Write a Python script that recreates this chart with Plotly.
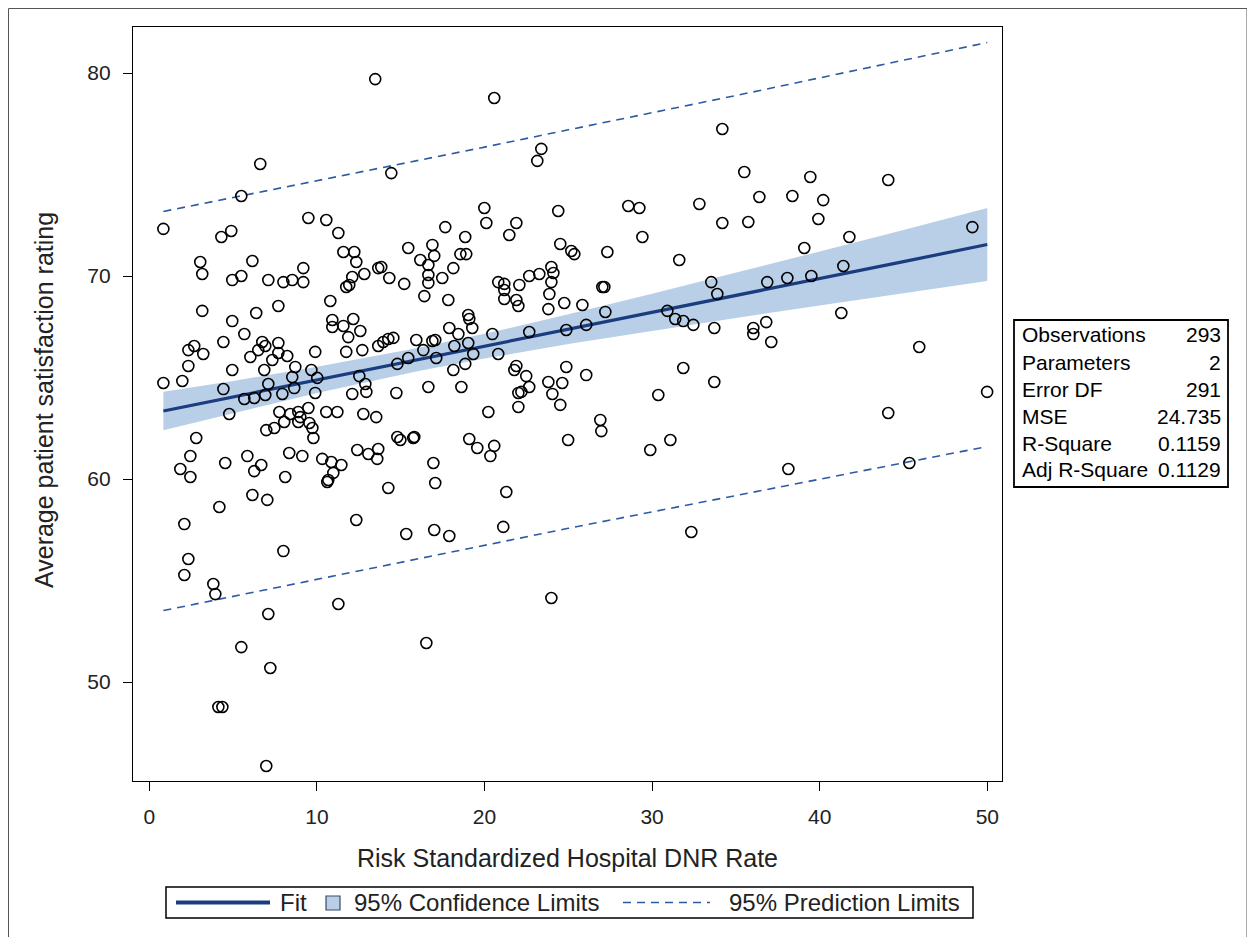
import plotly.graph_objects as go

# ---------------- data ----------------
x_dnr = [
    13.48, 6.62, 5.49, 0.84, 9.49, 10.56, 11.28, 4.30, 4.89, 3.04, 3.16, 6.15, 4.95, 5.49, 7.10, 8.00, 8.53, 9.19, 9.19,
    11.58, 12.23, 12.35, 12.11, 11.93, 11.75, 12.83, 13.66,
    20.58, 23.39, 23.15, 14.44, 19.99, 24.40, 20.11, 21.90, 21.48, 17.66, 18.85, 15.45, 16.89, 17.00, 16.17, 16.65,
    18.56, 18.91, 18.14, 13.84, 14.32, 15.21, 16.65, 16.65, 17.48, 16.41, 17.84, 24.52, 25.18, 25.36, 27.33, 20.82,
    21.18, 21.18, 22.08, 22.67, 23.27, 23.99, 24.11, 23.99, 23.87, 27.03, 27.15,
    34.19, 35.50, 39.44, 44.09, 28.58, 29.24, 32.82, 36.40, 38.37, 40.21, 39.92, 34.19, 35.74, 29.42, 41.77, 49.11,
    39.08, 31.62, 41.41, 33.53, 33.89, 36.87, 38.07, 39.50,
    3.16, 4.95, 6.38, 7.70, 10.80, 5.67, 4.42, 2.33, 2.68, 3.22, 2.33, 0.84, 1.97, 4.42, 4.95, 4.77, 6.03, 6.74, 6.92,
    6.50, 7.70, 7.70, 7.34, 8.23, 6.86, 7.10, 5.67, 6.26, 6.92, 7.94, 8.71, 8.53, 8.65, 9.90, 9.67, 10.02, 9.90,
    10.92, 10.92, 11.58, 12.17, 11.87, 12.59, 11.75, 12.71, 13.66, 12.53, 12.89, 12.95, 12.11, 7.76, 8.41, 8.89, 9.01,
    8.05, 7.46, 6.98, 8.89, 9.49, 9.55, 9.73, 9.79, 10.56, 11.22, 12.77, 13.54, 2.80, 2.45, 1.85, 2.45, 4.53, 5.85,
    6.68, 6.26, 8.11, 8.35, 9.13, 10.32, 10.86, 11.46, 10.98, 10.68, 10.62, 12.41, 13.07, 13.60, 13.66, 6.15, 7.04,
    4.18, 2.09, 12.35,
    2.33, 2.09, 8.00, 3.82, 3.94, 11.28, 7.10, 5.49, 7.22, 4.12, 4.36, 6.98, 23.99, 16.53,
    21.18, 21.90, 22.02, 23.81, 24.76, 25.84, 27.21, 19.03, 19.09, 19.27, 17.90, 18.44, 18.20, 19.03, 19.33, 18.85,
    18.14, 18.62, 20.47, 20.82, 17.06, 16.89, 15.93, 16.35, 17.12, 15.45, 14.80, 14.74, 16.65, 13.96, 14.26, 14.56,
    14.80, 14.98, 15.75, 15.81,
    19.09, 19.57, 20.58, 20.35, 20.23, 16.95, 17.06, 14.26, 21.30, 21.78, 21.90, 22.49, 22.67, 22.02, 22.20, 22.02,
    23.81, 24.64, 24.05, 24.52, 24.88, 26.07, 26.91, 26.97, 24.99, 17.00, 15.33, 17.90, 21.12, 22.67, 24.88, 26.07,
    30.91, 31.38, 31.86, 32.46, 33.71, 36.04, 36.04, 36.81, 37.11, 41.29, 45.94, 31.86, 33.71, 30.37, 49.99, 44.09,
    31.09, 29.89, 38.13, 45.35, 32.34,
]
y_rating = [
    79.70, 75.52, 73.94, 72.32, 72.86, 72.76, 72.12, 71.92, 72.22, 70.69, 70.10, 70.74, 69.80, 70.00, 69.80, 69.70,
    69.80, 70.39, 69.70, 71.18, 71.18, 70.69, 69.95, 69.56, 69.46, 70.10, 70.39,
    78.77, 76.26, 75.67, 75.07, 73.35, 73.20, 72.61, 72.61, 72.02, 72.41, 71.92, 71.38, 71.53, 70.99, 70.79, 70.54,
    71.08, 71.08, 70.39, 70.44, 69.90, 69.61, 70.05, 69.66, 69.90, 69.01, 68.82, 71.58, 71.23, 71.08, 71.18, 69.70,
    69.61, 69.31, 69.56, 70.00, 70.10, 70.44, 70.15, 69.70, 69.11, 69.46, 69.46,
    77.24, 75.12, 74.88, 74.73, 73.45, 73.35, 73.55, 73.89, 73.94, 73.74, 72.81, 72.61, 72.66, 71.92, 71.92, 72.41,
    71.38, 70.79, 70.49, 69.70, 69.11, 69.70, 69.90, 70.00,
    68.28, 67.78, 68.18, 68.52, 68.77, 67.14, 66.75, 66.35, 66.55, 66.16, 65.57, 64.73, 64.83, 64.43, 65.37, 63.20,
    66.01, 66.75, 66.55, 66.35, 66.70, 66.21, 65.86, 66.06, 65.37, 64.68, 63.94, 63.99, 64.14, 64.19, 65.52, 65.02,
    64.48, 66.26, 65.37, 64.98, 64.24, 67.83, 67.49, 67.54, 67.88, 66.99, 67.29, 66.26, 66.35, 66.55, 65.07, 64.68,
    64.29, 64.19, 63.30, 63.20, 63.30, 63.05, 62.81, 62.51, 62.41, 62.81, 63.50, 62.76, 62.51, 62.02, 63.30, 63.30,
    63.20, 63.05, 62.02, 61.13, 60.49, 60.10, 60.79, 61.13, 60.69, 60.39, 60.10, 61.28, 61.13, 60.99, 60.84, 60.69,
    60.30, 59.95, 59.85, 61.43, 61.23, 60.99, 61.48, 59.21, 58.97, 58.62, 57.78, 57.98,
    56.06, 55.27, 56.45, 54.83, 54.33, 53.84, 53.35, 51.72, 50.69, 48.77, 48.77, 45.86, 54.14, 51.92,
    68.87, 68.82, 68.52, 68.37, 68.67, 68.57, 68.23, 68.08, 67.88, 67.44, 67.44, 67.14, 66.55, 66.70, 66.16, 65.67,
    65.37, 64.53, 67.14, 66.16, 66.85, 66.80, 66.85, 66.35, 65.96, 65.96, 65.67, 64.24, 64.53, 66.75, 66.90, 66.95,
    62.07, 61.92, 62.02, 62.07,
    61.97, 61.53, 61.63, 61.13, 63.30, 60.79, 59.80, 59.56, 59.36, 65.37, 65.57, 65.07, 64.53, 64.24, 64.29, 63.55,
    64.78, 64.73, 64.19, 63.65, 65.52, 65.12, 62.91, 62.36, 61.92, 57.49, 57.29, 57.19, 57.64, 67.24, 67.34, 67.59,
    68.28, 67.88, 67.78, 67.59, 67.44, 67.44, 67.14, 67.73, 66.75, 68.18, 66.50, 65.47, 64.78, 64.14, 64.29, 63.25,
    61.92, 61.43, 60.49, 60.79, 57.39,
]

# fit, 95% confidence and 95% prediction limits, read at several x positions
band_x = [0.84, 5, 10, 16, 20, 25, 30, 35, 40, 45, 50]
fit_y = [63.35, 64.04, 64.88, 65.88, 66.54, 67.38, 68.21, 69.04, 69.88, 70.71, 71.55]
cl_lower = [62.40, 63.25, 64.24, 65.31, 65.93, 66.65, 67.30, 67.93, 68.55, 69.15, 69.75]
cl_upper = [64.30, 64.83, 65.53, 66.45, 67.15, 68.11, 69.12, 70.15, 71.21, 72.27, 73.35]
pl_lower = [53.52, 54.22, 55.07, 56.08, 56.73, 57.57, 58.38, 59.19, 60.00, 60.80, 61.60]
pl_upper = [73.18, 73.86, 74.69, 75.69, 76.35, 77.20, 78.04, 78.89, 79.76, 80.62, 81.50]

x_ticks = [0, 10, 20, 30, 40, 50]
y_ticks = [50, 60, 70, 80]

stat_labels = ["Observations", "Parameters", "Error DF", "MSE", "R-Square", "Adj R-Square"]
stat_values = ["293", "2", "291", "24.735", "0.1159", "0.1129"]

legend_labels = ["Fit", "95% Confidence Limits", "95% Prediction Limits"]
x_title = "Risk Standardized Hospital DNR Rate"
y_title = "Average patient satisfaction rating"

# ---------------- styling ----------------
FONT = "Liberation Sans, Arial, sans-serif"
FIT_COLOR = "#1B3C7E"
BAND_COLOR = "#B9CFE7"
PRED_COLOR = "#2D5AA0"
OFF = 8                      # page body margin: figure starts at page pixel (8, 8)
W, H = 1255 - OFF, 937 - OFF
L, R, T, B = 133 - OFF, 1002 - OFF, 27 - OFF, 781 - OFF  # plot frame in figure pixels


def fx(p):
    """page pixel -> paper x"""
    return (p - OFF - L) / (R - L)


def fy(p):
    """page pixel -> paper y"""
    return (B - (p - OFF)) / (B - T)


fig = go.Figure()

# confidence band
fig.add_trace(go.Scatter(x=band_x, y=cl_lower, mode="lines", line=dict(width=0, color=BAND_COLOR),
                         hoverinfo="skip", showlegend=False))
fig.add_trace(go.Scatter(x=band_x, y=cl_upper, mode="lines", line=dict(width=0, color=BAND_COLOR),
                         fill="tonexty", fillcolor=BAND_COLOR, hoverinfo="skip", showlegend=False))
# prediction limits
fig.add_trace(go.Scatter(x=band_x, y=pl_lower, mode="lines",
                         line=dict(color=PRED_COLOR, width=1.6, dash="8px,6px"), showlegend=False))
fig.add_trace(go.Scatter(x=band_x, y=pl_upper, mode="lines",
                         line=dict(color=PRED_COLOR, width=1.6, dash="8px,6px"), showlegend=False))
# fit
fig.add_trace(go.Scatter(x=band_x, y=fit_y, mode="lines", line=dict(color=FIT_COLOR, width=3.2),
                         showlegend=False))
# observations
fig.add_trace(go.Scatter(x=x_dnr, y=y_rating, mode="markers",
                         marker=dict(symbol="circle-open", size=11, color="black", line=dict(width=1.6)),
                         showlegend=False))

# axis ranges from the reference pixel scale (0 at page x 149.3, 16.76 px/unit; 80 at page y 73, 20.3 px/unit)
x0 = -(149.3 - 133) / 16.76
x1 = (1002 - 149.3) / 16.76
y_top = 80 + (73 - 27) / 20.3
y_bot = 80 - (781 - 73) / 20.3

axis_common = dict(showgrid=False, zeroline=False, showline=True, linecolor="black", linewidth=1.2,
                   mirror=True, ticks="outside", ticklen=9, tickwidth=1.2, tickcolor="black",
                   tickfont=dict(family=FONT, size=21, color="#222"))
fig.update_xaxes(range=[x0, x1], tickvals=x_ticks, ticklabelstandoff=8, **axis_common)
fig.update_yaxes(range=[y_bot, y_top], tickvals=y_ticks, ticklabelstandoff=8, **axis_common)

shapes = []
annotations = []

# axis titles
annotations.append(dict(text=x_title, x=0.5, y=fy(858), xref="paper", yref="paper", showarrow=False,
                        xanchor="center", yanchor="middle", font=dict(family=FONT, size=25, color="#222")))
annotations.append(dict(text=y_title, x=fx(44), y=fy(400), xref="paper", yref="paper", showarrow=False,
                        textangle=-90, xanchor="center", yanchor="middle",
                        font=dict(family=FONT, size=25, color="#222")))

# statistics inset
shapes.append(dict(type="rect", xref="paper", yref="paper", x0=fx(1014), x1=fx(1228), y0=fy(320), y1=fy(487),
                   line=dict(color="black", width=1.8), fillcolor="white"))
for i, (lab, val) in enumerate(zip(stat_labels, stat_values)):
    yy = fy(335 + 27 * i)
    annotations.append(dict(text=lab, x=fx(1020), y=yy, xref="paper", yref="paper", showarrow=False,
                            xanchor="left", yanchor="middle", font=dict(family=FONT, size=21, color="black")))
    annotations.append(dict(text=val, x=fx(1223), y=yy, xref="paper", yref="paper", showarrow=False,
                            xanchor="right", yanchor="middle", font=dict(family=FONT, size=21, color="black")))

# legend (drawn manually)
ly = 902.5
shapes.append(dict(type="rect", xref="paper", yref="paper", x0=fx(166), x1=fx(973), y0=fy(887), y1=fy(918),
                   line=dict(color="black", width=1.5), fillcolor="white"))
shapes.append(dict(type="line", xref="paper", yref="paper", x0=fx(176), x1=fx(270), y0=fy(ly), y1=fy(ly),
                   line=dict(color=FIT_COLOR, width=4)))
shapes.append(dict(type="rect", xref="paper", yref="paper", x0=fx(326), x1=fx(340), y0=fy(896), y1=fy(910),
                   line=dict(color="#3A4A66", width=1.2), fillcolor=BAND_COLOR))
shapes.append(dict(type="line", xref="paper", yref="paper", x0=fx(623), x1=fx(710), y0=fy(ly), y1=fy(ly),
                   line=dict(color=PRED_COLOR, width=1.6, dash="8px,6px")))
for txt, xp in zip(legend_labels, [278, 352, 727]):
    annotations.append(dict(text=txt, x=fx(xp), y=fy(ly), xref="paper", yref="paper", showarrow=False,
                            xanchor="left", yanchor="middle", font=dict(family=FONT, size=24, color="#222")))

# outer frame of the graphic
shapes.append(dict(type="rect", xref="paper", yref="paper", x0=fx(8.5), x1=fx(1247), y0=fy(945), y1=fy(8.5),
                   line=dict(color="#555", width=1), layer="below"))

fig.update_layout(width=W, height=H, margin=dict(l=L, r=W - R, t=T, b=H - B),
                  paper_bgcolor="white", plot_bgcolor="white", shapes=shapes, annotations=annotations,
                  showlegend=False)

fig.write_html("out.html")
